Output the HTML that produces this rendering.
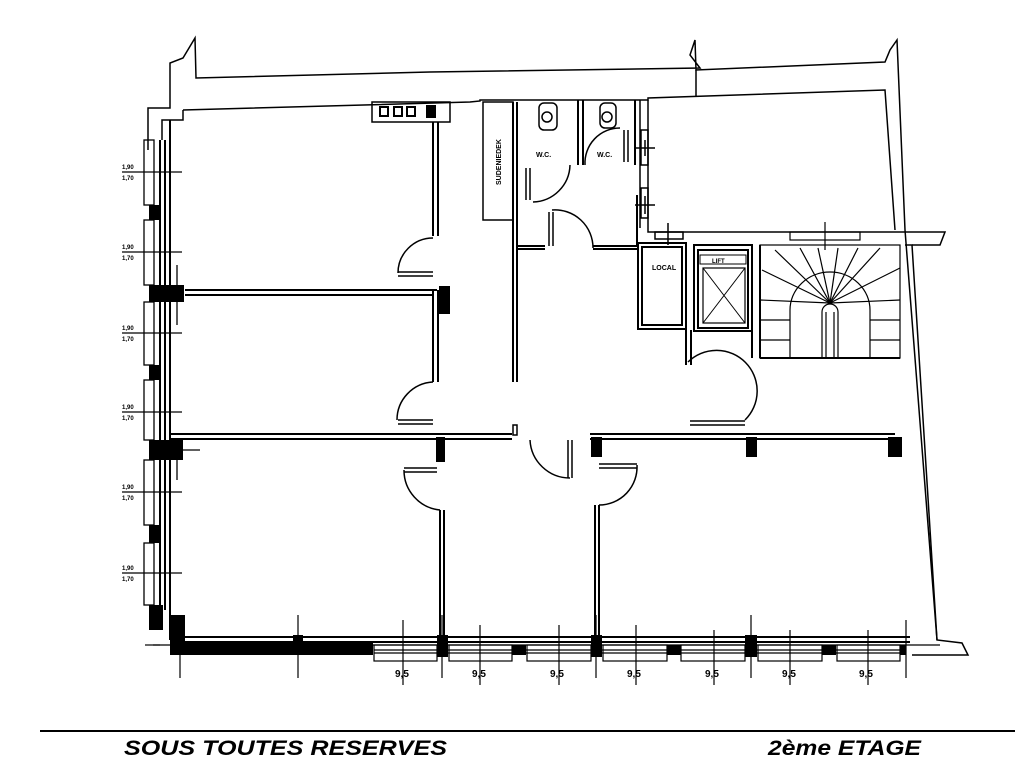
<!DOCTYPE html>
<html><head><meta charset="utf-8"><style>
html,body{margin:0;padding:0;background:#fff;width:1024px;height:768px;overflow:hidden}
svg{display:block}
text{font-family:"Liberation Sans",sans-serif}
</style></head><body>
<svg width="1024" height="768" viewBox="0 0 1024 768" xmlns="http://www.w3.org/2000/svg">
<g fill="none" stroke="#000" stroke-width="1.5">
<polyline points="148,150 148,108 170,108 170,63 183,58 195,38 196,78 430,72 700,68 690,55 695,40 696,70 885,62 890,50 897,40 905,230 937,640 962,643 968,655 912,655"/>
<polyline points="696,70 696,97"/>
<polyline points="183,110 470,102 480,101 480,100 648,100 648,98 885,90 895,230"/>
<polyline points="162,140 162,120 183,120 183,110"/>
<polyline points="648,100 648,232 655,232"/>
<polyline points="640,100 640,228"/>
<polyline points="655,232 945,232 940,245 912,245"/>
<polyline points="905,245 912,245 937,640"/>
</g>
<g fill="none" stroke="#000" stroke-width="2">
<line x1="160" y1="140" x2="160" y2="610"/>
<line x1="165" y1="140" x2="165" y2="610"/>
<line x1="170" y1="120" x2="170" y2="640"/>
<line x1="185" y1="637" x2="910" y2="637"/>
<line x1="185" y1="642" x2="910" y2="642"/>
<line x1="185" y1="290" x2="437" y2="290"/>
<line x1="185" y1="295" x2="433" y2="295"/>
<line x1="170" y1="434" x2="440" y2="434"/>
<line x1="170" y1="439" x2="440" y2="439"/>
<line x1="440" y1="434" x2="512" y2="434"/>
<line x1="440" y1="439" x2="512" y2="439"/>
<line x1="590" y1="434" x2="895" y2="434"/>
<line x1="590" y1="439" x2="895" y2="439"/>
<line x1="433" y1="122" x2="433" y2="236"/>
<line x1="438" y1="122" x2="438" y2="236"/>
<line x1="433" y1="290" x2="433" y2="382"/>
<line x1="438" y1="290" x2="438" y2="382"/>
<line x1="440" y1="510" x2="440" y2="637"/>
<line x1="444" y1="510" x2="444" y2="637"/>
<line x1="595" y1="505" x2="595" y2="637"/>
<line x1="599" y1="505" x2="599" y2="637"/>
<line x1="513" y1="102" x2="513" y2="382"/>
<line x1="517" y1="102" x2="517" y2="382"/>
<line x1="578" y1="100" x2="578" y2="165"/>
<line x1="583" y1="100" x2="583" y2="165"/>
<line x1="635" y1="100" x2="635" y2="165"/>
<line x1="517" y1="246" x2="545" y2="246"/>
<line x1="517" y1="249" x2="545" y2="249"/>
<line x1="593" y1="246" x2="637" y2="246"/>
<line x1="593" y1="249" x2="637" y2="249"/>
<line x1="637" y1="195" x2="637" y2="246"/>
<rect x="638" y="243" width="48" height="86"/>
<rect x="642" y="247" width="40" height="78"/>
<rect x="694" y="245" width="58" height="86"/>
<rect x="698" y="250" width="50" height="78"/>
<line x1="686" y1="330" x2="686" y2="365"/>
<line x1="691" y1="330" x2="691" y2="365"/>
<line x1="752" y1="245" x2="752" y2="358"/>
<line x1="760" y1="245" x2="760" y2="358"/>
<line x1="760" y1="358" x2="900" y2="358"/>
<rect x="703" y="268" width="42" height="55" stroke-width="1.2"/>
<line x1="703" y1="268" x2="745" y2="323" stroke-width="1"/>
<line x1="745" y1="268" x2="703" y2="323" stroke-width="1"/>
<rect x="700" y="255" width="46" height="9" stroke-width="1"/>
</g>
<text x="652" y="270" font-size="7" font-weight="bold">LOCAL</text>
<text x="712" y="263" font-size="6" font-weight="bold">LIFT</text>
<rect x="483" y="102" width="30" height="118" fill="none" stroke="#000" stroke-width="1.5"/>
<text x="0" y="0" font-size="7" font-weight="bold" transform="translate(501,185) rotate(-90)">SUDENIEDEK</text>
<rect x="372" y="102" width="78" height="20" fill="none" stroke="#000" stroke-width="1.5"/>
<g fill="none" stroke="#000" stroke-width="2"><rect x="380" y="107" width="8" height="9"/><rect x="394" y="107" width="8" height="9"/><rect x="407" y="107" width="8" height="9"/></g>
<rect x="426" y="105" width="10" height="13" fill="#000"/>
<g fill="none" stroke="#000" stroke-width="1.5">
<rect x="539" y="103" width="18" height="27" rx="5"/><circle cx="547" cy="117" r="5"/>
<rect x="600" y="103" width="16" height="25" rx="5"/><circle cx="607" cy="117" r="5"/>
<path d="M533,202 A38,38 0 0 0 570,165"/>
<path d="M585,165 A35,35 0 0 1 620,128"/>
<path d="M552,210 A38,38 0 0 1 593,248"/>
<line x1="526" y1="168" x2="526" y2="200"/><line x1="530" y1="168" x2="530" y2="200"/>
<line x1="549" y1="212" x2="549" y2="246"/><line x1="553" y1="212" x2="553" y2="246"/>
<line x1="624" y1="130" x2="624" y2="162"/><line x1="628" y1="130" x2="628" y2="162"/>
<rect x="641" y="130" width="7" height="35"/><line x1="635" y1="148" x2="655" y2="148"/><line x1="645" y1="140" x2="645" y2="156"/>
<rect x="641" y="188" width="7" height="30"/><line x1="635" y1="205" x2="655" y2="205"/><line x1="645" y1="196" x2="645" y2="214"/>
<rect x="655" y="232" width="28" height="7"/><line x1="668" y1="223" x2="668" y2="245"/>
<path d="M433,238 A35,35 0 0 0 398,273"/>
<line x1="398" y1="272" x2="433" y2="272"/><line x1="398" y1="276" x2="433" y2="276"/>
<path d="M433,382 A38,38 0 0 0 397,420"/>
<line x1="398" y1="420" x2="433" y2="420"/><line x1="398" y1="424" x2="433" y2="424"/>
<path d="M404,470 A40,40 0 0 0 440,510"/>
<line x1="404" y1="468" x2="437" y2="468"/><line x1="404" y1="472" x2="437" y2="472"/>
<path d="M530,440 A40,40 0 0 0 570,478"/>
<line x1="568" y1="440" x2="568" y2="478"/><line x1="572" y1="440" x2="572" y2="478"/>
<path d="M637,465 A38,38 0 0 1 599,505"/>
<line x1="599" y1="464" x2="637" y2="464"/><line x1="599" y1="468" x2="637" y2="468"/>
<path d="M688,362 A40,40 0 0 1 745,420"/>
<line x1="690" y1="421" x2="745" y2="421"/><line x1="690" y1="425" x2="745" y2="425"/>
<rect x="513" y="425" width="4" height="10"/>
</g>
<g fill="#000">
<rect x="149" y="205" width="12" height="15"/>
<rect x="149" y="285" width="35" height="17"/>
<rect x="439" y="286" width="11" height="28"/>
<rect x="149" y="365" width="12" height="15"/>
<rect x="149" y="440" width="34" height="20"/>
<rect x="436" y="437" width="9" height="25"/>
<rect x="591" y="437" width="11" height="20"/>
<rect x="746" y="437" width="11" height="20"/>
<rect x="888" y="437" width="14" height="20"/>
<rect x="149" y="525" width="12" height="18"/>
<rect x="149" y="605" width="14" height="25"/>
<rect x="170" y="615" width="15" height="40"/>
<rect x="170" y="642" width="203" height="13"/>
<rect x="293" y="635" width="10" height="10"/>
<rect x="437" y="635" width="11" height="22"/>
<rect x="512" y="645" width="14" height="10"/>
<rect x="591" y="635" width="11" height="22"/>
<rect x="667" y="645" width="14" height="10"/>
<rect x="745" y="635" width="12" height="22"/>
<rect x="822" y="645" width="14" height="10"/>
<rect x="900" y="645" width="6" height="10"/>
</g>
<g fill="none" stroke="#000" stroke-width="1.3">
<rect x="144" y="140" width="10" height="65"/><rect x="144" y="220" width="10" height="65"/>
<rect x="144" y="302" width="10" height="63"/><rect x="144" y="380" width="10" height="60"/>
<rect x="144" y="460" width="10" height="65"/><rect x="144" y="543" width="10" height="62"/>
<line x1="122" y1="172" x2="182" y2="172"/><line x1="122" y1="252" x2="182" y2="252"/>
<line x1="122" y1="333" x2="182" y2="333"/><line x1="122" y1="412" x2="182" y2="412"/>
<line x1="122" y1="492" x2="182" y2="492"/><line x1="122" y1="573" x2="182" y2="573"/>
<line x1="177" y1="265" x2="177" y2="325"/><line x1="177" y1="440" x2="177" y2="480"/>
<line x1="183" y1="450" x2="200" y2="450"/>
</g>
<g font-size="6" font-weight="bold">
<text x="122" y="169">1,90</text><text x="122" y="180">1,70</text>
<text x="122" y="249">1,90</text><text x="122" y="260">1,70</text>
<text x="122" y="330">1,90</text><text x="122" y="341">1,70</text>
<text x="122" y="409">1,90</text><text x="122" y="420">1,70</text>
<text x="122" y="489">1,90</text><text x="122" y="500">1,70</text>
<text x="122" y="570">1,90</text><text x="122" y="581">1,70</text>
</g>
<g fill="none" stroke="#000" stroke-width="1.2">
<rect x="374" y="645" width="63" height="16"/><rect x="449" y="645" width="63" height="16"/>
<rect x="527" y="645" width="64" height="16"/><rect x="603" y="645" width="64" height="16"/>
<rect x="681" y="645" width="64" height="16"/><rect x="758" y="645" width="64" height="16"/>
<rect x="837" y="645" width="63" height="16"/>
<line x1="374" y1="650" x2="905" y2="650"/><line x1="374" y1="653" x2="905" y2="653"/>
<line x1="153" y1="645" x2="940" y2="645"/>
<line x1="145" y1="645" x2="160" y2="645"/>
<line x1="180" y1="655" x2="180" y2="678"/><line x1="298" y1="615" x2="298" y2="678"/>
<line x1="403" y1="620" x2="403" y2="685"/><line x1="480" y1="625" x2="480" y2="685"/>
<line x1="559" y1="625" x2="559" y2="685"/><line x1="636" y1="625" x2="636" y2="685"/>
<line x1="714" y1="630" x2="714" y2="685"/><line x1="790" y1="630" x2="790" y2="685"/>
<line x1="868" y1="630" x2="868" y2="685"/>
<line x1="442" y1="615" x2="442" y2="678"/><line x1="596" y1="615" x2="596" y2="678"/>
<line x1="751" y1="615" x2="751" y2="678"/><line x1="906" y1="620" x2="906" y2="678"/>
</g>
<g font-size="10" font-weight="bold">
<text x="395" y="677">9,5</text><text x="472" y="677">9,5</text><text x="550" y="677">9,5</text>
<text x="627" y="677">9,5</text><text x="705" y="677">9,5</text><text x="782" y="677">9,5</text>
<text x="859" y="677">9,5</text>
</g>
<text x="536" y="157" font-size="7" font-weight="bold">W.C.</text>
<text x="597" y="157" font-size="7" font-weight="bold">W.C.</text>
<g fill="none" stroke="#000" stroke-width="1.2">
<rect x="760" y="245" width="140" height="113"/>
<rect x="790" y="232" width="70" height="8"/>
<line x1="825" y1="222" x2="825" y2="250"/>
<path d="M790,358 L790,310 A40,38 0 0 1 870,310 L870,358"/>
<path d="M822,358 L822,312 A8,8 0 0 1 838,312 L838,358"/>
<line x1="826" y1="312" x2="826" y2="358"/><line x1="834" y1="312" x2="834" y2="358"/>
<line x1="830" y1="303" x2="762" y2="270"/><line x1="830" y1="303" x2="775" y2="250"/>
<line x1="830" y1="303" x2="800" y2="248"/><line x1="830" y1="303" x2="818" y2="248"/>
<line x1="830" y1="303" x2="838" y2="248"/><line x1="830" y1="303" x2="858" y2="248"/>
<line x1="830" y1="303" x2="880" y2="248"/><line x1="830" y1="303" x2="900" y2="268"/>
<line x1="830" y1="303" x2="900" y2="300"/><line x1="830" y1="303" x2="760" y2="300"/>
<line x1="760" y1="320" x2="790" y2="320"/><line x1="760" y1="340" x2="790" y2="340"/>
<line x1="870" y1="320" x2="900" y2="320"/><line x1="870" y1="340" x2="900" y2="340"/>
</g>
<line x1="40" y1="731" x2="1015" y2="731" stroke="#000" stroke-width="2"/>
<text x="124" y="755" font-size="21" font-weight="bold" font-style="italic" textLength="323" lengthAdjust="spacingAndGlyphs">SOUS TOUTES RESERVES</text>
<text x="768" y="755" font-size="21" font-weight="bold" font-style="italic" textLength="153" lengthAdjust="spacingAndGlyphs">2ème ETAGE</text>
</svg>
</body></html>
